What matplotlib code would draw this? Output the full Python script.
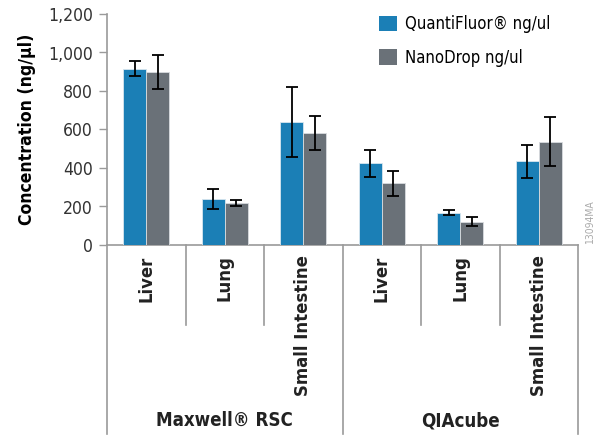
import matplotlib
matplotlib.use("Agg")
import matplotlib.pyplot as plt
import matplotlib.transforms as mtransforms
from matplotlib.patches import Patch
import numpy as np

plt.rcParams['font.family'] = ['DejaVu Sans']
plt.rcParams['font.stretch'] = 'condensed'

categories = ["Liver", "Lung", "Small Intestine", "Liver", "Lung", "Small Intestine"]
groups = ["Maxwell® RSC", "QIAcube"]
series_names = ["QuantiFluor® ng/ul", "NanoDrop ng/ul"]
quantifluor = [915, 238, 640, 424, 167, 435]
quantifluor_err = [39, 51, 181, 71, 13, 86]
nanodrop = [900, 217, 582, 320, 122, 537]
nanodrop_err = [89, 17, 88, 67, 25, 128]
yticks = [0, 200, 400, 600, 800, 1000, 1200]
ytick_labels = ["0", "200", "400", "600", "800", "1,000", "1,200"]

blue = "#1b7fb6"
gray = "#6a7178"
axis_gray = "#9a9a9a"

fig = plt.figure(figsize=(6.01, 4.36), dpi=100)
ax = fig.add_axes([107/601, 1-245/436, 471/601, 231/436])

x = np.arange(len(categories))
w = 0.295
ax.bar(x - w/2, quantifluor, w, color=blue, edgecolor="#d8e6ef", linewidth=0.6,
       yerr=quantifluor_err, error_kw=dict(ecolor="black", elinewidth=1.3, capsize=4.5, capthick=1.3),
       label=series_names[0], zorder=3)
ax.bar(x + w/2, nanodrop, w, color=gray, edgecolor="#d8dcdf", linewidth=0.6,
       yerr=nanodrop_err, error_kw=dict(ecolor="black", elinewidth=1.3, capsize=4.5, capthick=1.3),
       label=series_names[1], zorder=3)

ax.set_xlim(-0.5, len(categories) - 0.5)
ax.set_ylim(0, 1200)
ax.set_yticks(yticks)
ax.set_yticklabels(ytick_labels, fontsize=12.6, color="#333333")
ax.tick_params(axis='y', length=6, width=1, color=axis_gray, pad=4)
ax.set_xticks([])
for s in ["top", "right"]:
    ax.spines[s].set_visible(False)
for s in ["left", "bottom"]:
    ax.spines[s].set_color(axis_gray)
    ax.spines[s].set_linewidth(1.2)
ax.spines["left"].set_visible(False)
ax.plot([0, 0], [0, 1], transform=ax.transAxes, color=axis_gray, lw=1.2, clip_on=False)

ax.set_ylabel("Concentration (ng/µl)", fontsize=12.6, fontweight="bold", labelpad=9)

trans = mtransforms.blended_transform_factory(ax.transData, ax.transAxes)
n = len(categories)
per_group = n // len(groups)
for b in range(n + 1):
    xb = b - 0.5
    if b % per_group == 0:
        ax.plot([xb, xb], [0, -0.82], transform=trans, color=axis_gray, lw=1.2, clip_on=False)
    else:
        ax.plot([xb, xb], [0, -0.345], transform=trans, color=axis_gray, lw=1.2, clip_on=False)

for i, c in enumerate(categories):
    ax.text(i, -0.045, c, transform=trans, rotation=90, ha="center", va="top",
            fontsize=13.2, fontweight="bold", color="#222222")
for g, name in enumerate(groups):
    xc = g * per_group + (per_group - 1) / 2
    ax.text(xc, -0.76, name, transform=trans, ha="center", va="center",
            fontsize=13.4, fontweight="bold", color="#222222")

handles = [Patch(facecolor=blue, edgecolor="none"), Patch(facecolor=gray, edgecolor="none")]
fig.legend(handles, series_names, loc="upper left", bbox_to_anchor=(364/601, 1-0/436),
           frameon=False, fontsize=12, handlelength=1.05, handleheight=1.05,
           handletextpad=0.5, labelspacing=0.95)

fig.text(590/601, 1-222/436, "13094MA", rotation=90, ha="center", va="center",
         fontsize=7.5, color="#aaaaaa")

fig.savefig("out.png", dpi=100)
